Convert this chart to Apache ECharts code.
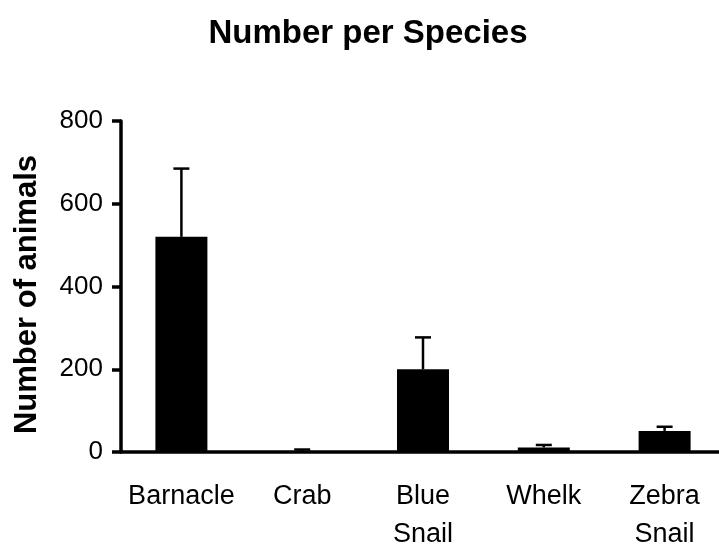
<!DOCTYPE html>
<html>
<head>
<meta charset="utf-8">
<script src="https://cdn.jsdelivr.net/npm/echarts@6/dist/echarts.min.js"></script>
<style>html,body{margin:0;padding:0;background:#fff}#c{width:719px;height:550px}</style>
</head>
<body>
<div id="c"></div>
<script>
var categories = ['Barnacle', 'Crab', 'Blue\nSnail', 'Whelk', 'Zebra\nSnail'];
var means = [520, 2, 200, 11, 51];
var errors = [165, 4, 77, 6, 10];
var yTicks = [0, 200, 400, 600, 800];

var FONT = "'Liberation Sans', Arial, sans-serif";
var chart = echarts.init(document.getElementById('c'), null, {renderer: 'canvas'});
var errData = means.map(function (m, i) { return [i, m, m + errors[i]]; });

chart.setOption({
  animation: false,
  backgroundColor: '#fff',
  title: {
    text: 'Number per Species',
    left: 363, top: 12, textAlign: 'center',
    textStyle: {fontFamily: FONT, fontSize: 33, fontWeight: 'bold', color: '#000'}
  },
  grid: {left: 121, top: 121, right: -6, bottom: 98, containLabel: false, outerBoundsMode: 'none'},
  xAxis: {
    type: 'category',
    data: categories,
    axisLine: {lineStyle: {color: '#000', width: 3.5}},
    axisTick: {show: false},
    axisLabel: {fontFamily: FONT, fontSize: 27, color: '#000', margin: 26, lineHeight: 38, interval: 0}
  },
  yAxis: {
    type: 'value',
    min: yTicks[0], max: yTicks[yTicks.length - 1], interval: 200,
    name: 'Number of animals',
    nameLocation: 'middle',
    nameGap: 78,
    nameTextStyle: {fontFamily: FONT, fontSize: 31, fontWeight: 'bold', color: '#000', padding: [0, 16, 0, 0]},
    axisLine: {show: true, lineStyle: {color: '#000', width: 3.5}},
    axisTick: {show: true, length: 9, lineStyle: {color: '#000', width: 3.5}},
    axisLabel: {fontFamily: FONT, fontSize: 26, color: '#000', margin: 18},
    splitLine: {show: false}
  },
  series: [
    {
      type: 'bar',
      data: means,
      barWidth: 52,
      itemStyle: {color: '#000'},
      z: 2
    },
    {
      type: 'custom',
      data: errData,
      z: 3,
      renderItem: function (params, api) {
        var i = api.value(0);
        var lo = api.coord([i, api.value(1)]);
        var hi = api.coord([i, api.value(2)]);
        var hw = 8;
        return {
          type: 'group',
          children: [
            {type: 'line', shape: {x1: lo[0], y1: lo[1], x2: hi[0], y2: hi[1]}, style: {stroke: '#000', lineWidth: 2.5}},
            {type: 'line', shape: {x1: hi[0] - hw, y1: hi[1], x2: hi[0] + hw, y2: hi[1]}, style: {stroke: '#000', lineWidth: 2.5}}
          ]
        };
      }
    }
  ]
});
</script>
</body>
</html>
